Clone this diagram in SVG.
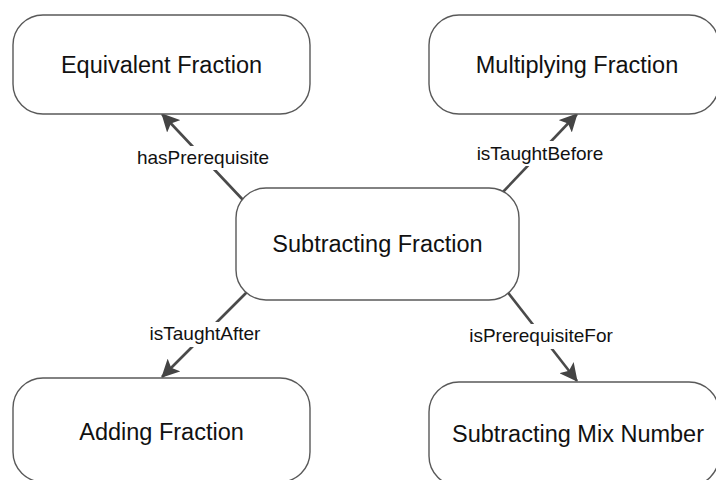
<svg xmlns="http://www.w3.org/2000/svg" width="716" height="480" viewBox="0 0 716 480">
  <style>
    .node rect { fill: #ffffff; stroke: #595959; stroke-width: 1.4; }
    .node text { font-family: "Liberation Sans", Arial, sans-serif; font-size: 23.5px; fill: #111111; text-anchor: middle; }
    .edge line { stroke: #4a4a4a; stroke-width: 2.6; }
    .edge rect { fill: #ffffff; }
    .edge text { font-family: "Liberation Sans", Arial, sans-serif; font-size: 19px; fill: #111111; text-anchor: middle; }
  </style>
  <defs>
    <marker id="arrow" markerUnits="userSpaceOnUse" markerWidth="19" markerHeight="18" refX="17" refY="9" orient="auto">
      <path d="M0,0 L18,9 L0,18 L4,9 Z" fill="#444444"/>
    </marker>
  </defs>
  <rect width="716" height="480" fill="#ffffff"/>

  <!-- connectors -->
  <g id="connectors">
    <g class="edge" id="e-hasPrerequisite">
      <line x1="244" y1="201" x2="162" y2="114" marker-end="url(#arrow)"/>
      <rect x="132" y="146" width="142" height="24"/>
      <text x="203" y="164">hasPrerequisite</text>
    </g>
    <g class="edge" id="e-isTaughtBefore">
      <line x1="502" y1="193" x2="577" y2="114" marker-end="url(#arrow)"/>
      <rect x="470" y="141" width="140" height="25"/>
      <text x="540" y="160">isTaughtBefore</text>
    </g>
    <g class="edge" id="e-isTaughtAfter">
      <line x1="248" y1="291" x2="162" y2="377" marker-end="url(#arrow)"/>
      <rect x="142" y="322" width="126" height="25"/>
      <text x="205" y="340">isTaughtAfter</text>
    </g>
    <g class="edge" id="e-isPrerequisiteFor">
      <line x1="506" y1="290" x2="577" y2="381" marker-end="url(#arrow)"/>
      <rect x="463" y="324" width="156" height="25"/>
      <text x="541" y="342">isPrerequisiteFor</text>
    </g>
  </g>

  <!-- nodes -->
  <g class="node" id="n-equivalent">
    <rect x="13" y="15" width="297" height="99" rx="30" ry="30"/>
    <text x="161.5" y="73">Equivalent Fraction</text>
  </g>
  <g class="node" id="n-multiplying">
    <rect x="429" y="15" width="290" height="99" rx="30" ry="30"/>
    <text x="577" y="73">Multiplying Fraction</text>
  </g>
  <g class="node" id="n-subtracting">
    <rect x="236" y="188" width="283" height="112" rx="30" ry="30"/>
    <text x="377.5" y="252">Subtracting Fraction</text>
  </g>
  <g class="node" id="n-adding">
    <rect x="13" y="378" width="297" height="104" rx="30" ry="30"/>
    <text x="161.5" y="440">Adding Fraction</text>
  </g>
  <g class="node" id="n-mixnumber">
    <rect x="429" y="382" width="290" height="104" rx="30" ry="30"/>
    <text x="578" y="442">Subtracting Mix Number</text>
  </g>
</svg>
